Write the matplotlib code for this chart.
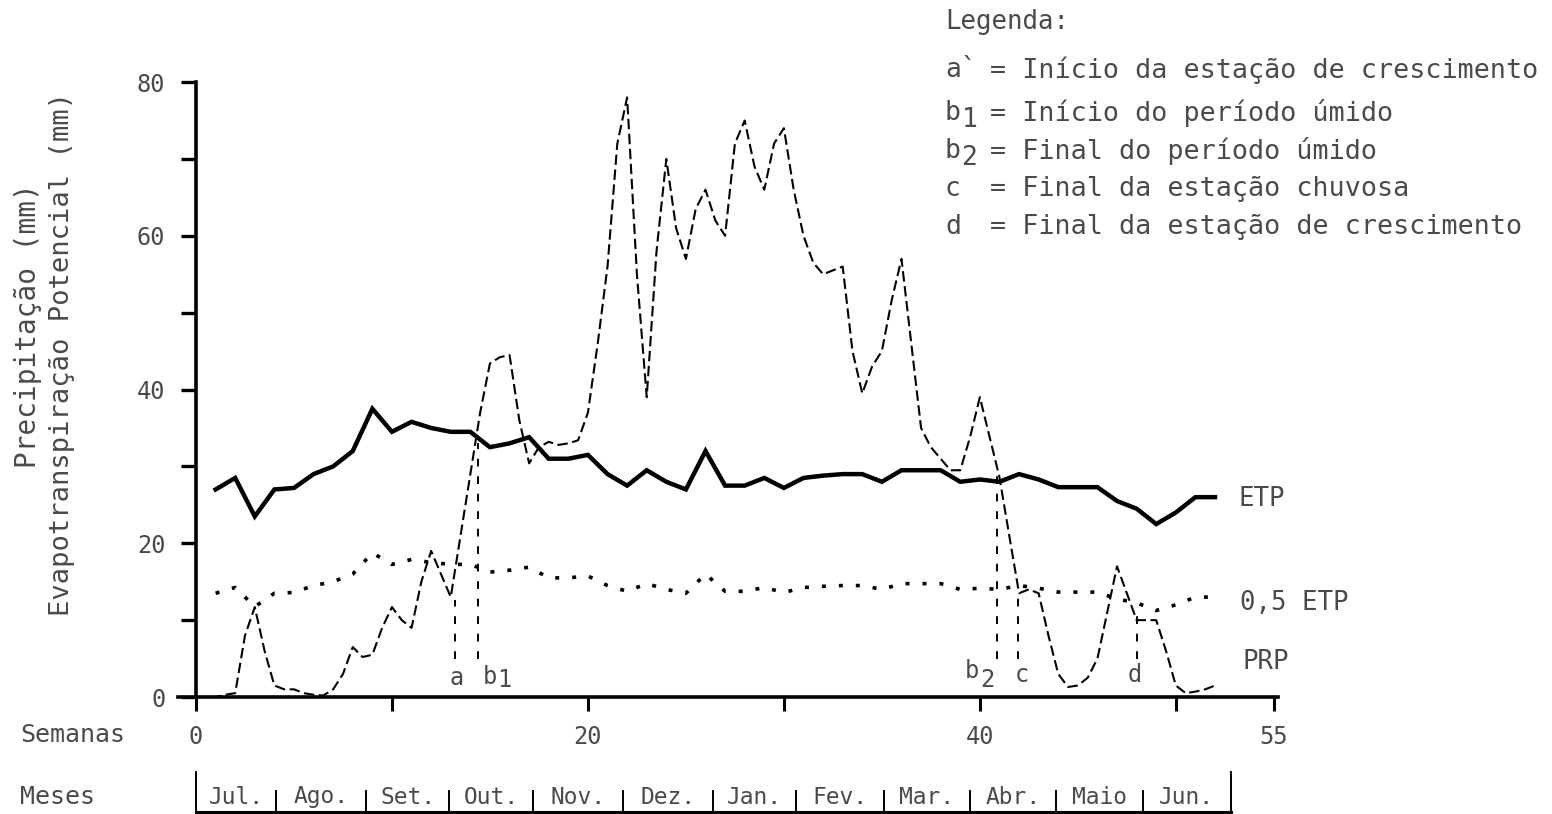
import matplotlib.pyplot as plt
import numpy as np
from matplotlib.transforms import blended_transform_factory

plt.rcParams['font.family'] = ['DejaVu Sans Mono', 'DejaVu Sans']

TXT = '#4a4a4a'

# weekly potential evapotranspiration (mm), weeks 1..52
etp_weeks = np.arange(1, 53)
etp = [27, 28.5, 23.5, 27, 27.2, 29, 30, 32, 37.5, 34.5,
       35.8, 35, 34.5, 34.5, 32.5, 33, 33.8, 31, 31, 31.5,
       29, 27.5, 29.5, 28, 27, 32, 27.5, 27.5, 28.5, 27.2,
       28.5, 28.8, 29, 29, 28, 29.5, 29.5, 29.5, 28, 28.3,
       28, 29, 28.3, 27.3, 27.3, 27.3, 25.5, 24.5, 22.5, 24,
       26, 26]
etp_half = 0.5 * np.array(etp)

# precipitation (mm), every half week from week 0 to 52
prp_weeks = np.arange(0, 52.5, 0.5)
prp = [0, 0, 0, 0.3, 0.5, 8, 11.7, 6, 1.5, 1,
       1, 0.5, 0.3, 0.2, 1, 3, 6.5, 5.2, 5.5, 9,
       11.7, 10, 9, 15, 19, 16, 13, 21, 29, 37,
       43.4, 44.2, 44.5, 36, 30.4, 32.5, 33.2, 32.8, 33, 33.4,
       37, 46, 56, 72, 78, 55, 39, 58, 70, 61,
       57, 63.5, 66, 62, 60, 72, 75, 69, 66, 72,
       74, 66, 60, 56.5, 55, 55.5, 56, 45, 39.5, 43,
       45, 51.6, 57, 46, 35, 32.5, 31, 29.5, 29.5, 33.8,
       39, 33.8, 28.6, 21, 13.5, 14, 13.5, 8, 3, 1.3,
       1.5, 2.5, 5, 11, 17, 13.5, 10, 10, 10, 6,
       1.5, 0.5, 0.7, 1, 1.5]

# season markers: week, top of the dashed line
event_names = ['a', 'b', 'b', 'c', 'd']
event_subs = ['', '1', '2', '', '']
event_weeks = [13.2, 14.4, 40.9, 41.95, 48.0]
event_tops = [12.6, 33.0, 29.5, 13.0, 11.3]

# month strip (boundaries in weeks)
months = ['Jul.', 'Ago.', 'Set.', 'Out.', 'Nov.', 'Dez.', 'Jan.', 'Fev.',
          'Mar.', 'Abr.', 'Maio', 'Jun.']
month_edges = [0, 4.1, 8.7, 12.9, 17.2, 21.8, 26.4, 30.6, 35.1, 39.5, 43.9,
               48.3, 52.8]

legend_keys = [('a`', ''), ('b', '1'), ('b', '2'), ('c', ''), ('d', '')]
legend_texts = ['= Início da estação de crescimento',
                '= Início do período úmido',
                '= Final do período úmido',
                '= Final da estação chuvosa',
                '= Final da estação de crescimento']

W, H = 1552, 814
fig = plt.figure(figsize=(W / 100, H / 100), dpi=100)
ax = fig.add_axes([176.4 / W, 109.3 / H, 1117 / W, 638 / H])
ax.set_xlim(-1, 56)
ax.set_ylim(-1, 82)

ax.plot(etp_weeks, etp, color='black', lw=3.2, solid_joinstyle='miter')
ax.plot(etp_weeks, etp_half, color='black', lw=2.6,
        linestyle=(0, (1.1, 3.6)), dash_capstyle='butt')
ax.plot(prp_weeks, prp, color='black', lw=1.5,
        linestyle=(0, (5, 2.2)), dash_capstyle='butt')

for name, sub, wk, top in zip(event_names, event_subs, event_weeks, event_tops):
    ax.vlines(wk, 5.0, top, colors='black', lw=1.4, linestyles=(0, (4, 5)))

# marker labels under the curves
ax.text(13.3, 2.5, 'a', ha='center', va='center', fontsize=17, color=TXT)
ax.text(15.0, 2.6, 'b', ha='center', va='center', fontsize=17, color=TXT)
ax.text(15.75, 2.2, '1', ha='center', va='center', fontsize=17, color=TXT)
ax.text(39.6, 3.4, 'b', ha='center', va='center', fontsize=17, color=TXT)
ax.text(40.4, 2.2, '2', ha='center', va='center', fontsize=17, color=TXT)
ax.text(42.15, 2.8, 'c', ha='center', va='center', fontsize=17, color=TXT)
ax.text(47.9, 2.8, 'd', ha='center', va='center', fontsize=17, color=TXT)

# series names at the right end
ax.text(53.2, 25.8, 'ETP', ha='left', va='center', fontsize=18.5, color=TXT)
ax.text(53.3, 12.2, '0,5 ETP', ha='left', va='center', fontsize=18.5, color=TXT)
ax.text(53.4, 4.6, 'PRP', ha='left', va='center', fontsize=18.5, color=TXT)

for side in ['top', 'right']:
    ax.spines[side].set_visible(False)
ax.spines['left'].set_position(('data', 0))
ax.spines['bottom'].set_position(('data', 0))
ax.spines['left'].set_bounds(0, 80)
ax.spines['bottom'].set_bounds(-0.9, 55.2)
for side in ['left', 'bottom']:
    ax.spines[side].set_linewidth(2.6)

ax.set_yticks([0, 20, 40, 60, 80])
ax.set_yticks([10, 30, 50, 70], minor=True)
ax.set_xticks([0, 10, 20, 30, 40, 50, 55])
ax.set_xticklabels(['0', '', '20', '', '40', '', '55'])
ax.tick_params(axis='y', which='both', direction='out', length=11, width=2.4,
               pad=11, labelsize=17, labelcolor=TXT)
ax.tick_params(axis='x', direction='out', length=10, width=2.2, pad=10,
               labelsize=17, labelcolor=TXT)

# axis titles
fig.text(28 / W, 1 - 326 / H, 'Precipitação (mm)', rotation=90,
         ha='center', va='center', fontsize=20, color=TXT)
fig.text(62 / W, 1 - 354 / H, 'Evapotranspiração Potencial (mm)', rotation=90,
         ha='center', va='center', fontsize=19.5, color=TXT)
fig.text(20 / W, 1 - 735 / H, 'Semanas', ha='left', va='center',
         fontsize=18, color=TXT)
fig.text(20 / W, 1 - 797 / H, 'Meses', ha='left', va='center',
         fontsize=18, color=TXT)

# month strip below the week axis
tr = blended_transform_factory(ax.transData, fig.transFigure)
y_base = 1 - 812 / H
ax.plot([month_edges[0], month_edges[-1]], [y_base, y_base], transform=tr,
        color='black', lw=2.2, clip_on=False)
for i, edge in enumerate(month_edges):
    top = 772 if i in (0, len(month_edges) - 1) else 791
    ax.plot([edge, edge], [y_base, 1 - top / H], transform=tr,
            color='black', lw=1.4, clip_on=False)
for m, lo, hi in zip(months, month_edges[:-1], month_edges[1:]):
    ax.text((lo + hi) / 2, 1 - 797 / H, m, transform=tr, ha='center',
            va='center', fontsize=16.5, color=TXT)

# legend block
fig.text(945 / W, 1 - 22 / H, 'Legenda:', ha='left', va='center',
         fontsize=18.5, color=TXT)
rows_y = [70, 113, 151, 189, 227]
for (key, sub), desc, yy in zip(legend_keys, legend_texts, rows_y):
    fig.text(945 / W, 1 - yy / H, key, ha='left', va='center',
             fontsize=19, color=TXT)
    if sub:
        fig.text(962 / W, 1 - (yy + 7) / H, sub, ha='left', va='center',
                 fontsize=19, color=TXT)
    fig.text(990 / W, 1 - yy / H, desc, ha='left', va='center',
             fontsize=19.3, color=TXT)

fig.savefig('out.png', dpi=100)
